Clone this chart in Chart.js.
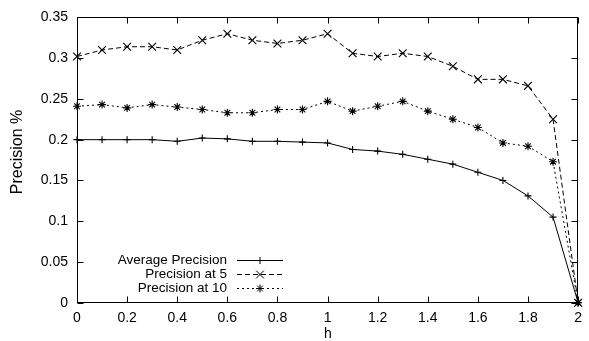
<!DOCTYPE html>
<html>
<head>
<meta charset="utf-8">
<script src="https://cdn.jsdelivr.net/npm/chart.js@4/dist/chart.umd.min.js"></script>
<style>
  html, body { margin: 0; padding: 0; background: #fff; }
  #wrap { width: 589px; height: 341px; }
</style>
</head>
<body>
<div id="wrap"><canvas id="c" width="589" height="341"></canvas></div>
<script>
// ---- data ----
const hValues = [0, 0.1, 0.2, 0.3, 0.4, 0.5, 0.6, 0.7, 0.8, 0.9, 1.0, 1.1, 1.2, 1.3, 1.4, 1.5, 1.6, 1.7, 1.8, 1.9, 2.0];
const avgPrecision = [0.200, 0.200, 0.200, 0.200, 0.198, 0.202, 0.201, 0.198, 0.198, 0.197, 0.196, 0.188, 0.186, 0.182, 0.176, 0.170, 0.160, 0.150, 0.131, 0.105, 0];
const precisionAt5 = [0.302, 0.310, 0.314, 0.314, 0.310, 0.322, 0.330, 0.322, 0.318, 0.322, 0.330, 0.306, 0.302, 0.306, 0.302, 0.290, 0.274, 0.274, 0.266, 0.225, 0];
const precisionAt10 = [0.241, 0.243, 0.239, 0.243, 0.240, 0.237, 0.233, 0.233, 0.237, 0.237, 0.247, 0.235, 0.241, 0.247, 0.235, 0.225, 0.215, 0.196, 0.192, 0.173, 0];
const seriesLabels = ['Average Precision', 'Precision at 5', 'Precision at 10'];
const xTickValues = [0, 0.2, 0.4, 0.6, 0.8, 1, 1.2, 1.4, 1.6, 1.8, 2];
const xTickLabels = ['0', '0.2', '0.4', '0.6', '0.8', '1', '1.2', '1.4', '1.6', '1.8', '2'];
const yTickValues = [0, 0.05, 0.1, 0.15, 0.2, 0.25, 0.3, 0.35];
const yTickLabels = ['0', '0.05', '0.1', '0.15', '0.2', '0.25', '0.3', '0.35'];
const xTitle = 'h';
const yTitle = 'Precision %';

const FONT = '"Liberation Sans", Arial, Helvetica, sans-serif';
Chart.defaults.font.family = FONT;
Chart.defaults.color = '#000';

function pts(ys) { return hValues.map((x, i) => ({ x: x, y: ys[i] })); }

function drawMarker(ctx, style, x, y, r) {
  ctx.beginPath();
  if (style === 'cross' || style === 'star') {
    ctx.moveTo(x - r, y); ctx.lineTo(x + r, y);
    ctx.moveTo(x, y - r); ctx.lineTo(x, y + r);
  }
  if (style === 'crossRot' || style === 'star') {
    const d = r * 0.7071;
    ctx.moveTo(x - d, y - d); ctx.lineTo(x + d, y + d);
    ctx.moveTo(x - d, y + d); ctx.lineTo(x + d, y - d);
  }
  ctx.stroke();
}

const framePlugin = {
  id: 'frame',
  afterDatasetsDraw(chart) {
    const ctx = chart.ctx, a = chart.chartArea;
    const xs = chart.scales.x, ys = chart.scales.y;
    ctx.save();
    ctx.strokeStyle = '#000';
    ctx.lineWidth = 1;
    ctx.setLineDash([]);
    const L = Math.round(a.left) + 0.5, R = Math.round(a.right) - 0.5;
    const T = Math.round(a.top) + 0.5, B = Math.round(a.bottom) - 0.5;
    ctx.strokeRect(L, T, R - L, B - T);
    const tl = 6;
    ctx.beginPath();
    xs.ticks.forEach(t => {
      const px = Math.round(xs.getPixelForValue(t.value)) + 0.5;
      ctx.moveTo(px, B); ctx.lineTo(px, B - tl);
      ctx.moveTo(px, T); ctx.lineTo(px, T + tl);
    });
    ys.ticks.forEach(t => {
      const py = Math.round(ys.getPixelForValue(t.value)) + 0.5;
      ctx.moveTo(L, py); ctx.lineTo(L + tl, py);
      ctx.moveTo(R, py); ctx.lineTo(R - tl, py);
    });
    ctx.stroke();

    // axis titles
    ctx.fillStyle = '#000';
    ctx.textAlign = 'center';
    ctx.textBaseline = 'middle';
    ctx.font = '14px ' + FONT;
    ctx.fillText(xTitle, 328, 334);
    ctx.save();
    ctx.translate(18, 152);
    ctx.rotate(-Math.PI / 2);
    ctx.font = '16px ' + FONT;
    ctx.fillText(yTitle, 0, 0);
    ctx.restore();

    // legend (gnuplot style: right-aligned text, sample on the right)
    ctx.font = '13.5px ' + FONT;
    ctx.textAlign = 'right';
    const textRight = 227, x0 = 237, x1 = 283, y0 = 260, dy = 14.2;
    chart.data.datasets.forEach((ds, i) => {
      const y = y0 + i * dy;
      ctx.fillText(ds.label, textRight, y);
      ctx.setLineDash(ds.borderDash || []);
      ctx.beginPath();
      ctx.moveTo(x0, Math.round(y) + 0.5); ctx.lineTo(x1, Math.round(y) + 0.5);
      ctx.stroke();
      ctx.setLineDash([]);
      drawMarker(ctx, ds.pointStyle, (x0 + x1) / 2, Math.round(y) + 0.5, ds.pointRadius);
    });
    ctx.restore();
  }
};

const common = {
  borderColor: '#000', backgroundColor: '#000', borderWidth: 1,
  pointBorderWidth: 1.1, pointBorderColor: '#000',
  pointBackgroundColor: '#000', tension: 0, fill: false, clip: false
};

new Chart(document.getElementById('c'), {
  type: 'line',
  data: {
    datasets: [
      Object.assign({ label: seriesLabels[0], data: pts(avgPrecision), pointStyle: 'cross', pointRadius: 3.5, borderDash: [] }, common),
      Object.assign({ label: seriesLabels[1], data: pts(precisionAt5), pointStyle: 'crossRot', pointRadius: 5.5, borderDash: [5, 3] }, common),
      Object.assign({ label: seriesLabels[2], data: pts(precisionAt10), pointStyle: 'star', pointRadius: 4, borderDash: [2, 3] }, common)
    ]
  },
  options: {
    responsive: false,
    animation: false,
    devicePixelRatio: 1,
    layout: { padding: { top: 17, right: 6, left: 0, bottom: 0 } },
    plugins: { legend: { display: false }, tooltip: { enabled: false } },
    scales: {
      x: {
        type: 'linear', min: 0, max: 2,
        grid: { display: false, drawTicks: false },
        border: { display: false },
        afterBuildTicks: s => { s.ticks = xTickValues.map(v => ({ value: v })); },
        afterFit: s => { s.height = 38.3; },
        ticks: { padding: 7, font: { size: 14 }, maxRotation: 0, autoSkip: false,
                 callback: (v, i) => xTickLabels[i] }
      },
      y: {
        type: 'linear', min: 0, max: 0.35,
        grid: { display: false, drawTicks: false },
        border: { display: false },
        afterBuildTicks: s => { s.ticks = yTickValues.map(v => ({ value: v })); },
        afterFit: s => { s.width = 77; },
        ticks: { padding: 9, font: { size: 14 }, autoSkip: false,
                 callback: (v, i) => yTickLabels[i] }
      }
    }
  },
  plugins: [framePlugin]
});
</script>
</body>
</html>
